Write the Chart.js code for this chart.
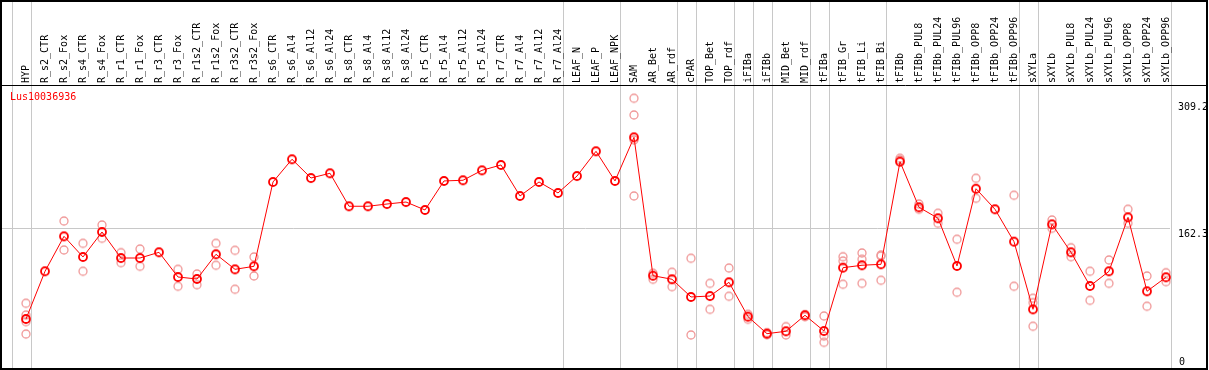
<!DOCTYPE html>
<html lang="en">
<head>
    <meta charset="UTF-8">
    <title>Lus10036936</title>
    <style>
        body {
            margin: 0;
            padding: 0;
            background: #fff;
        }
        canvas {
            display: block;
        }
    </style>
</head>
<body>
    <canvas id="expr" width="1209" height="370"></canvas>

    <script src="https://cdn.jsdelivr.net/npm/chart.js"></script>
    <script>
        const geneName = 'Lus10036936';

        const samples = ['HYP', 'R_s2_CTR', 'R_s2_Fox', 'R_s4_CTR', 'R_s4_Fox', 'R_r1_CTR', 'R_r1_Fox',
            'R_r3_CTR', 'R_r3_Fox', 'R_r1s2_CTR', 'R_r1s2_Fox', 'R_r3s2_CTR', 'R_r3s2_Fox',
            'R_s6_CTR', 'R_s6_Al4', 'R_s6_Al12', 'R_s6_Al24', 'R_s8_CTR', 'R_s8_Al4', 'R_s8_Al12', 'R_s8_Al24',
            'R_r5_CTR', 'R_r5_Al4', 'R_r5_Al12', 'R_r5_Al24', 'R_r7_CTR', 'R_r7_Al4', 'R_r7_Al12', 'R_r7_Al24',
            'LEAF_N', 'LEAF_P', 'LEAF_NPK', 'SAM', 'AR_Bet', 'AR_rdf', 'cPAR', 'TOP_Bet', 'TOP_rdf',
            'iFIBa', 'iFIBb', 'MID_Bet', 'MID_rdf', 'tFIBa', 'tFIB_Gr', 'tFIB_Li', 'tFIB_Bi',
            'tFIBb', 'tFIBb_PUL8', 'tFIBb_PUL24', 'tFIBb_PUL96', 'tFIBb_OPP8', 'tFIBb_OPP24', 'tFIBb_OPP96',
            'sXYLa', 'sXYLb', 'sXYLb_PUL8', 'sXYLb_PUL24', 'sXYLb_PUL96', 'sXYLb_OPP8', 'sXYLb_OPP24', 'sXYLb_OPP96'];

        // mean expression per sample
        const meanValues = [57.3, 112.5, 153.0, 129.1, 158.0, 127.9, 127.9, 134.5, 105.9, 103.6, 132.2, 114.8, 118.3,
            215.9, 242.2, 220.5, 226.0, 187.8, 187.8, 190.4, 192.7, 183.5, 217.1, 217.9, 229.4, 235.6, 199.7, 215.9, 203.2,
            222.8, 251.4, 217.1, 267.6, 107.4, 103.3, 82.8, 83.9, 99.8, 60.0, 40.3, 43.1, 61.6, 43.4, 116.7, 119.5, 120.6,
            239.4, 186.6, 173.9, 118.7, 208.1, 184.3, 146.8, 68.5, 166.9, 134.5, 95.5, 112.5, 175.0, 89.4, 105.6];

        // individual replicates (null = not visible / hidden under the mean)
        const rep1 = [75.5, null, 170.7, 144.9, 166.1, 134.1, 138.3, null, 114.8, 109.4, 144.9, 136.8, 129.1,
            null, null, null, null, null, null, null, null, null, null, null, null, null, null, null, null,
            null, null, null, 312.8, 110.2, 111.4, 127.6, 98.6, 116.3, 62.7, 41.4, 48.4, 62.3, 60.8, 129.4, 133.7, 131.4,
            243.3, 190.4, 179.7, 149.6, 220.2, null, 200.5, 81.3, 171.9, 139.8, 112.5, 125.6, 184.3, 107.1, 110.9];
        const rep2 = [61.9, null, 137.2, 112.5, 150.7, 122.5, 118.3, null, 95.2, 97.0, 119.5, 91.7, 107.1,
            null, null, null, null, null, null, null, null, null, null, null, null, null, null, null, null,
            null, null, null, 293.5, 103.3, 94.7, 38.8, 68.5, 83.6, 57.0, 39.1, 38.8, 60.0, 37.6, 124.4, 126.4, 130.2,
            241.4, 184.3, 168.1, 88.2, 197.0, null, 95.2, 76.2, 162.3, 129.4, 78.9, 98.6, 168.1, 72.0, 100.5];
        const rep3 = [54.2, null, null, null, null, null, null, null, null, null, null, null, null,
            null, null, null, null, null, null, null, null, null, null, null, null, null, null, null, null,
            null, null, null, 264.5, null, null, null, null, null, null, null, null, null, 30.3, 97.5, 98.6, 102.1,
            null, null, null, null, null, null, null, 48.9, null, null, null, null, null, null, null];
        const rep4 = [39.9, null, null, null, null, null, null, null, null, null, null, null, null,
            null, null, null, null, null, null, null, null, null, null, null, null, null, null, null, null,
            null, null, null, 199.7, null, null, null, null, null, null, null, null, null, null, null, null, null,
            null, null, null, null, null, null, null, null, null, null, null, null, null, null, null];

        // tissue groups end after these sample indexes (-1 = before the first one)
        const groupEnds = [-1, 0, 28, 31, 34, 35, 37, 38, 39, 41, 42, 45, 52, 53, 60];
        const yTicks = [309.2, 162.3, 0];
        const yMax = 327;

        const FONT = '10px "DejaVu Sans Mono", monospace';

        function makeMarker(color, width) {
            const c = document.createElement('canvas');
            c.width = 12;
            c.height = 12;
            const g = c.getContext('2d');
            g.strokeStyle = color;
            g.lineWidth = width;
            g.beginPath();
            g.arc(6, 6, 4, 0, Math.PI * 2);
            g.stroke();
            return c;
        }
        const mainMarker = makeMarker('#ff0000', 1.8);
        const repMarker = makeMarker('#f09898', 1.3);

        // frame, group separators, sample names and value labels
        const framePlugin = {
            id: 'frame',
            beforeDatasetsDraw(chart) {
                const ctx = chart.ctx;
                const x = chart.scales.x;
                const y = chart.scales.y;
                const step = x.getPixelForValue(1) - x.getPixelForValue(0);
                ctx.save();
                ctx.strokeStyle = '#c8c8c8';
                ctx.lineWidth = 1;
                groupEnds.forEach(i => {
                    const px = Math.round(x.getPixelForValue(0) + step * i + 4.5) + 0.5;
                    ctx.beginPath();
                    ctx.moveTo(px, 1);
                    ctx.lineTo(px, 369);
                    ctx.stroke();
                });
                const py = Math.round(y.getPixelForValue(162.3)) + 0.5;
                ctx.beginPath();
                ctx.moveTo(1, py);
                ctx.lineTo(1170, py);
                ctx.stroke();

                ctx.strokeStyle = '#000';
                ctx.lineWidth = 2;
                ctx.strokeRect(1, 1, 1206, 368);
                ctx.lineWidth = 1;
                ctx.beginPath();
                ctx.moveTo(1, 85.5);
                ctx.lineTo(1207, 85.5);
                ctx.stroke();

                ctx.fillStyle = '#000';
                ctx.font = FONT;
                ctx.textAlign = 'left';
                ctx.textBaseline = 'alphabetic';
                samples.forEach((s, i) => {
                    ctx.save();
                    ctx.translate(x.getPixelForValue(i) + 3, 83);
                    ctx.rotate(-Math.PI / 2);
                    ctx.fillText(s, 0, 0);
                    ctx.restore();
                });

                yTicks.forEach(v => {
                    const ty = y.getPixelForValue(v);
                    if (v === 0) {
                        ctx.textBaseline = 'alphabetic';
                        ctx.fillText(String(v), 1179, 365);
                    } else {
                        ctx.textBaseline = 'top';
                        ctx.fillText(String(v), 1178, ty + 1);
                    }
                });

                ctx.fillStyle = '#ff0000';
                ctx.textBaseline = 'top';
                ctx.fillText(geneName, 10, 92);
                ctx.restore();
            }
        };

        const repSet = data => ({
            data: data,
            showLine: false,
            pointStyle: repMarker,
            pointRadius: 5
        });

        new Chart(document.getElementById('expr'), {
            type: 'line',
            data: {
                labels: samples,
                datasets: [
                    {
                        data: meanValues,
                        borderColor: '#ff0000',
                        borderWidth: 1,
                        tension: 0,
                        pointStyle: mainMarker,
                        pointRadius: 5
                    },
                    repSet(rep1),
                    repSet(rep2),
                    repSet(rep3),
                    repSet(rep4)
                ]
            },
            options: {
                responsive: false,
                animation: false,
                layout: {
                    autoPadding: false,
                    padding: { left: 16.5, right: 33.5, top: 86, bottom: 1.5 }
                },
                plugins: {
                    legend: { display: false },
                    tooltip: { enabled: false }
                },
                scales: {
                    x: { display: false, offset: true },
                    y: { display: false, min: 0, max: yMax }
                }
            },
            plugins: [framePlugin]
        });
    </script>
</body>
</html>
